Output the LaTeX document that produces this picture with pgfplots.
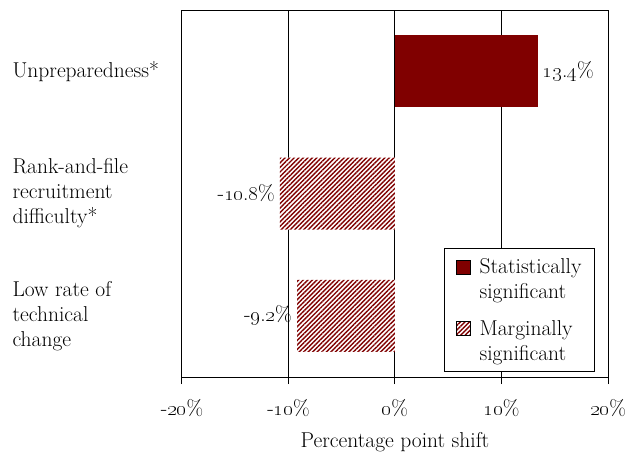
\documentclass[border=0pt]{standalone}
\usepackage{pgfplots}
\pgfplotsset{compat=1.18}
\usetikzlibrary{patterns.meta}
\definecolor{barred}{RGB}{128,0,0}
\begin{document}
\begin{tikzpicture}[font=\fontsize{21.5}{25}\selectfont]
\begin{axis}[
  scale only axis, width=426pt, height=367pt,
  xmin=-20, xmax=20, ymin=-0.5, ymax=2.5, y dir=reverse,
  xtick={-20,-10,0,10,20},
  xticklabels={-\oldstylenums{20}\%, -\oldstylenums{10}\%, \oldstylenums{0}\%, \oldstylenums{10}\%, \oldstylenums{20}\%},
  xtick pos=bottom, tick align=outside, major tick length=7pt,
  xticklabel style={yshift=-12pt},
  xmajorgrids, grid style={black, line width=1pt},
  ytick={0,1,2},
  yticklabels={Unpreparedness*, Rank-and-file\\recruitment\\difficulty*, Low rate of\\technical\\change},
  yticklabel style={align=left, anchor=west, xshift=-166pt},
  ytick style={draw=none},
  xlabel={Percentage point shift},
  xlabel style={yshift=-9pt},
  xbar, bar width=72pt, bar shift=0pt,
  axis line style={line width=1pt},
  every tick/.style={black, line width=1pt},
  legend style={at={(1,0)}, anchor=south east, xshift=-13pt, yshift=5pt,
    draw=black, line width=1pt, cells={align=left, anchor=west},
    row sep=16pt, column sep=7pt, inner xsep=11pt, inner ysep=8pt, font=\fontsize{21.5}{25}\selectfont},
  legend image code/.code={\draw[#1, draw=black, line width=0.8pt] (-3pt,5pt) rectangle (11pt,19pt);},
]
\addplot[fill=barred, draw=none, point meta=explicit symbolic, nodes near coords,
  every node near coord/.append style={anchor=west, inner sep=5pt, font=\fontsize{21.5}{25}\selectfont}]
  coordinates {(13.4,0) [{\oldstylenums{13}.\oldstylenums{4}\%}]};
\addlegendentry{Statistically\\significant}
\addplot[preaction={fill=white}, pattern={Lines[angle=45,distance=3.2pt,line width=1.4pt]}, pattern color=barred, draw=none,
  point meta=explicit symbolic, nodes near coords,
  every node near coord/.append style={anchor=east, inner sep=5pt, font=\fontsize{21.5}{25}\selectfont}]
  coordinates {(-10.8,1) [{-\oldstylenums{10}.\oldstylenums{8}\%}] (-9.2,2) [{-\oldstylenums{9}.\oldstylenums{2}\%}]};
\addlegendentry{Marginally\\significant}
\end{axis}
\pgfresetboundingbox
\path[use as bounding box] ([xshift=-182pt,yshift=-75pt]current axis.south west) rectangle ([xshift=20pt,yshift=10pt]current axis.north east);
\end{tikzpicture}
\end{document}
